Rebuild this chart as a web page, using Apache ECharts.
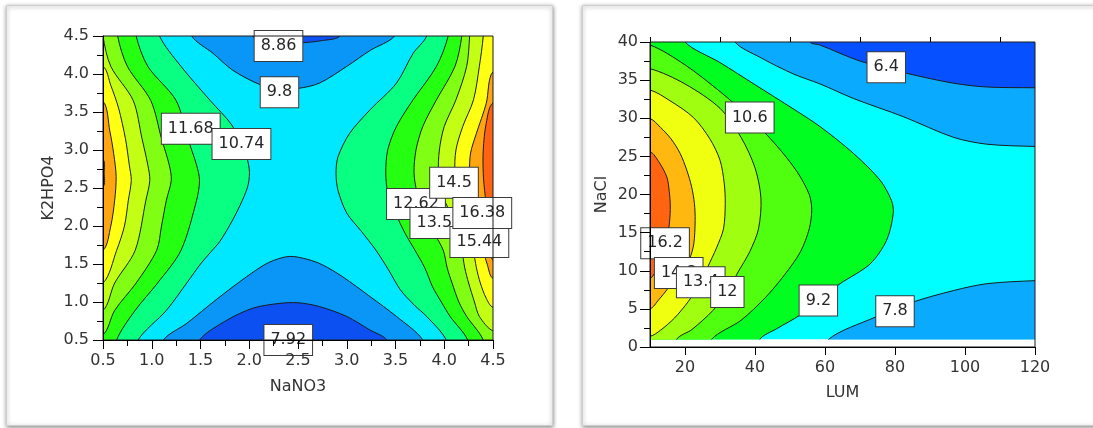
<!DOCTYPE html>
<html>
<head>
<meta charset="utf-8">
<script src="https://cdn.jsdelivr.net/npm/echarts@6.0.0/dist/echarts.min.js"></script>
<style>
html,body{margin:0;padding:0;background:#ffffff;}
#chart{width:1093px;height:428px;}
</style>
</head>
<body>
<div id="chart"></div>
<script>
// ================= LEFT PANEL: NaNO3 (x) vs K2HPO4 (y) =================
// contour lines, [NaNO3, K2HPO4] points
const left_980_bottom = [[1.12,0.5],[1.36,0.72],[1.66,1.03],[1.97,1.33],[2.2,1.52],[2.41,1.60],[2.6,1.56],[2.75,1.49],[2.96,1.33],[3.24,1.07],[3.51,0.81],[3.78,0.5]];
const left_886_bottom = [[1.49,0.5],[1.77,0.76],[2.04,0.92],[2.3,0.98],[2.5,0.99],[2.72,0.94],[3.0,0.81],[3.24,0.63],[3.41,0.5]];
const left_980_top = [[1.41,4.5],[1.63,4.27],[1.83,4.05],[2.11,3.86],[2.3,3.80],[2.5,3.81],[2.72,3.88],[3.0,4.10],[3.24,4.31],[3.49,4.5]];
const left_886_top = [[2.03,4.5],[2.25,4.44],[2.5,4.41],[2.75,4.44],[2.93,4.5]];
const left_1074_L = [[1.08,4.5],[1.3,4.1],[1.6,3.65],[1.82,3.33],[1.95,3.0],[2.0,2.75],[1.99,2.55],[1.93,2.34],[1.83,2.08],[1.70,1.80],[1.60,1.65],[1.50,1.50],[1.37,1.27],[1.15,0.89],[0.86,0.5]];
const left_1168_L = [[0.84,4.5],[0.96,4.1],[1.25,3.65],[1.37,3.15],[1.46,2.8],[1.49,2.6],[1.46,2.34],[1.30,1.68],[1.06,1.25],[0.83,0.89],[0.64,0.5]];
const left_1262_L = [[0.65,4.5],[0.75,4.1],[0.99,3.65],[1.10,3.15],[1.18,2.8],[1.20,2.6],[1.15,2.34],[1.10,2.0],[1.05,1.68],[0.84,1.25],[0.62,0.89],[0.5,0.57]];
const left_1356_L = [[0.5,4.5],[0.58,4.1],[0.81,3.65],[0.90,3.15],[0.96,2.8],[0.98,2.6],[0.94,2.34],[0.83,1.68],[0.62,1.25],[0.5,0.89]];
const left_1450_L = [[0.5,4.1],[0.58,3.85],[0.66,3.55],[0.73,3.15],[0.77,2.8],[0.79,2.6],[0.76,2.34],[0.72,2.0],[0.64,1.68],[0.5,1.25]];
const left_1544_L = [[0.5,3.64],[0.57,3.25],[0.61,2.95],[0.635,2.65],[0.62,2.34],[0.58,2.0],[0.5,1.68]];
const left_1638_L = [[0.5,2.87],[0.512,2.7],[0.5,2.52]];
const left_1074_R = [[3.82,4.5],[3.68,4.27],[3.51,3.88],[3.24,3.53],[3.03,3.22],[2.91,2.91],[2.89,2.69],[2.91,2.47],[3.0,2.17],[3.15,1.93],[3.30,1.68],[3.43,1.42],[3.55,1.16],[3.70,0.95],[3.82,0.81],[4.02,0.5]];
const left_1168_R = [[4.04,4.5],[3.92,4.1],[3.68,3.66],[3.51,3.31],[3.42,3.0],[3.40,2.7],[3.42,2.45],[3.50,2.17],[3.60,1.9],[3.70,1.68],[3.80,1.45],[3.88,1.2],[3.97,1.0],[4.06,0.81],[4.24,0.5]];
const left_1262_R = [[4.18,4.5],[4.11,4.1],[3.92,3.66],[3.78,3.31],[3.71,3.0],[3.69,2.7],[3.72,2.45],[3.80,2.17],[3.90,1.9],[3.99,1.68],[4.03,1.45],[4.08,1.25],[4.15,1.0],[4.23,0.81],[4.40,0.5]];
const left_1356_R = [[4.26,4.5],[4.23,4.1],[4.12,3.66],[4.0,3.31],[3.95,3.0],[3.94,2.7],[3.97,2.45],[4.06,2.17],[4.13,1.9],[4.18,1.68],[4.21,1.45],[4.25,1.25],[4.31,1.0],[4.36,0.81],[4.5,0.62]];
const left_1450_R = [[4.40,4.5],[4.36,4.1],[4.30,3.66],[4.19,3.31],[4.12,3.0],[4.11,2.7],[4.15,2.45],[4.23,2.17],[4.28,1.9],[4.30,1.68],[4.33,1.45],[4.37,1.25],[4.43,1.05],[4.5,0.93]];
const left_1544_R = [[4.5,4.03],[4.43,3.61],[4.33,3.22],[4.27,2.96],[4.26,2.7],[4.28,2.45],[4.33,2.17],[4.37,1.9],[4.40,1.68],[4.44,1.5],[4.5,1.31]];
const left_1638_R = [[4.5,3.62],[4.43,3.35],[4.40,3.0],[4.40,2.69],[4.42,2.4],[4.45,2.17],[4.47,1.9],[4.48,1.7],[4.5,1.55]];
// contour value labels
const leftLabelText = ['8.86','9.8','11.68','10.74','7.92','12.62','14.5','13.56','15.44','16.38'];
const leftLabelX    = [2.30, 2.31, 1.40, 1.92, 2.40, 3.71, 4.10, 3.95, 4.36, 4.39];
const leftLabelY    = [4.37, 3.76, 3.28, 3.08, 0.50, 2.29, 2.57, 2.04, 1.79, 2.17];

// ================= RIGHT PANEL: LUM (x) vs NaCl (y) =================
const right_640_top = [[55.7,40],[58.6,39.6],[70,37.5],[83.3,35.9],[96.7,34.6],[106.2,34.1],[120,34.0]];
const right_780_top = [[34.3,40],[41.4,38.0],[51,35.8],[58.6,34.5],[68.1,32.6],[82.4,30.2],[96.7,27.5],[106.2,26.6],[120,26.3]];
const right_780_bottom = [[61,1],[74.3,3.9],[85.2,5.9],[96.7,7.4],[106.2,8.3],[120,8.7]];
const right_920 = [[20,40],[30,37.3],[40,34.4],[50,31.5],[58.6,28.9],[68.1,25.4],[75.7,21.9],[79,19.2],[79.5,17.5],[77.6,14],[72.9,10.9],[64.3,8.3],[58,6.1],[52.9,4.2],[46.2,2.4],[41.4,1]];
const right_1060 = [[10,39.6],[20,37],[30,33.5],[38.5,30.1],[46,26.5],[52,23],[55.5,20],[56.2,18],[55.5,15.5],[53,12.5],[48.5,9.5],[43,6.5],[36,3.5],[27.6,1]];
const right_1200 = [[10,36.5],[20,34.5],[30,31.3],[36,27.5],[40,23.5],[41.7,19.5],[41,15.5],[38.5,12.5],[35,9.7],[32.1,7.2],[28,4.8],[22,2.3],[17.6,1]];
const right_1340 = [[10,33.7],[15.7,32.3],[22.4,30.1],[27.1,27.3],[30,24.5],[31.2,21.5],[31.5,18.8],[31.0,15.5],[29.0,13],[26.5,10.5],[24.5,8.5],[21,6.0],[17,3.8],[13,2.2],[10,1.4]];
const right_1480 = [[10,29.95],[13,28.8],[16,27.3],[18.6,25.4],[20.5,23.2],[21.9,21],[22.7,18.8],[22.9,16.6],[22.5,13.5],[21.2,11.5],[18.2,9.7],[15,7.6],[12.5,6.2],[10,5.0]];
const right_1620 = [[10,25.6],[12.5,24.3],[14.8,22.3],[15.5,20.4],[15.8,18.5],[15.6,16.5],[15.0,14.5],[14.0,12.5],[12.2,10.5],[10,9.0]];
const rightLabelText = ['6.4','10.6','16.2','14.8','13.4','12','9.2','7.8'];
const rightLabelX    = [77.5, 38.5, 14.3, 18.2, 24.5, 32.1, 58.1, 80.0];
const rightLabelY    = [36.7, 30.1, 13.6,  9.7,  8.5,  7.2,  6.1,  4.7];
const rightXLabelValues = [20, 40, 60, 80, 100, 120];
const rightXMinorTicks  = [10, 30, 50, 70, 90, 110];

// ================= styles =================
const FONT = 'DejaVu Sans';
const LP = {dark:'#0c50f2', blue:'#0a96f6', cyan:'#00e8ff', spring:'#08ff82', green:'#25ff12', yg:'#80ff14', lyg:'#c3ff14', yellow:'#ffff14', orange:'#ffa512', red:'#ff6210'};
const RP = {dark:'#0750ff', blue:'#0aaaff', cyan:'#00ffff', green:'#00ff20', green2:'#50ff10', yg:'#a0ff10', yellow:'#f0ff10', orange:'#ffb810', red:'#ff6410'};

const leftExt = {x0:0.5, x1:4.5, y0:0.5, y1:4.5};
const rightExt = {x0:10, x1:120, y0:1, y1:40};

const leftRegions = [
  {line:left_980_bottom, side:'bottom', color:LP.blue},
  {line:left_886_bottom, side:'bottom', color:LP.dark},
  {line:left_980_top, side:'top', color:LP.blue},
  {line:left_886_top, side:'top', color:LP.dark},
  {line:left_1074_L, side:'left', color:LP.spring},
  {line:left_1168_L, side:'left', color:LP.green},
  {line:left_1262_L, side:'left', color:LP.yg},
  {line:left_1356_L, side:'left', color:LP.lyg},
  {line:left_1450_L, side:'left', color:LP.yellow},
  {line:left_1544_L, side:'left', color:LP.orange},
  {line:left_1638_L, side:'left', color:LP.red},
  {line:left_1074_R, side:'right', color:LP.spring},
  {line:left_1168_R, side:'right', color:LP.green},
  {line:left_1262_R, side:'right', color:LP.yg},
  {line:left_1356_R, side:'right', color:LP.lyg},
  {line:left_1450_R, side:'right', color:LP.yellow},
  {line:left_1544_R, side:'right', color:LP.orange},
  {line:left_1638_R, side:'right', color:LP.red}
];
const rightRegions = [
  {line:right_780_top, side:'topright', color:RP.blue},
  {line:right_640_top, side:'topright', color:RP.dark},
  {line:right_780_bottom, side:'bottomright', color:RP.blue},
  {line:right_920, side:'left', color:RP.green},
  {line:right_1060, side:'left', color:RP.green2},
  {line:right_1200, side:'left', color:RP.yg},
  {line:right_1340, side:'left', color:RP.yellow},
  {line:right_1480, side:'left', color:RP.orange},
  {line:right_1620, side:'left', color:RP.red}
];

function closeRegion(line, side, ext) {
  const dx = (ext.x1 - ext.x0) * 0.06, dy = (ext.y1 - ext.y0) * 0.06;
  const tol = 1e-6;
  const edge = p => {
    if (Math.abs(p[1] - ext.y1) < tol) return 'top';
    if (Math.abs(p[1] - ext.y0) < tol) return 'bottom';
    if (Math.abs(p[0] - ext.x0) < tol) return 'left';
    return 'right';
  };
  const out = p => {
    const e = edge(p);
    if (e === 'top') return [p[0], ext.y1 + dy];
    if (e === 'bottom') return [p[0], ext.y0 - dy];
    if (e === 'left') return [ext.x0 - dx, p[1]];
    return [ext.x1 + dx, p[1]];
  };
  const first = line[0], last = line[line.length - 1];
  const pts = line.slice();
  pts.push(out(last));
  const BL = [ext.x0 - dx, ext.y0 - dy], TL = [ext.x0 - dx, ext.y1 + dy];
  const BR = [ext.x1 + dx, ext.y0 - dy], TR = [ext.x1 + dx, ext.y1 + dy];
  if (side === 'left') { if (edge(last) === 'bottom') pts.push(BL); if (edge(first) === 'top') pts.push(TL); }
  if (side === 'right') { if (edge(last) === 'bottom') pts.push(BR); if (edge(first) === 'top') pts.push(TR); }
  if (side === 'topright') pts.push(TR);
  if (side === 'bottomright') pts.push(BR);
  pts.push(out(first));
  return pts;
}

function contourSeries(regions, ext, bg, axisIndex) {
  return {
    type: 'custom', xAxisIndex: axisIndex.x, yAxisIndex: axisIndex.y,
    silent: true, animation: false, z: 2,
    data: [[ext.x0, ext.y0]],
    renderItem: function (params, api) {
      const tl = api.coord([ext.x0, ext.y1]);
      const br = api.coord([ext.x1, ext.y0]);
      const rect = {x: tl[0], y: tl[1], width: br[0] - tl[0], height: br[1] - tl[1]};
      const children = [{type: 'rect', shape: rect, style: {fill: bg}}];
      regions.forEach(function (r) {
        const pts = closeRegion(r.line, r.side, ext).map(function (p) { return api.coord(p); });
        children.push({type: 'polygon', shape: {points: pts, smooth: 0.3},
          style: {fill: r.color, stroke: '#1c1c1c', lineWidth: 1}});
      });
      return {type: 'group', children: children, clipPath: {type: 'rect', shape: rect}};
    }
  };
}

function labelSeries(texts, xs, ys, axisIndex) {
  return {
    type: 'scatter', xAxisIndex: axisIndex.x, yAxisIndex: axisIndex.y,
    symbolSize: 0, silent: true, animation: false, clip: false, z: 6,
    itemStyle: {opacity: 1},
    data: texts.map(function (t, i) { return {name: t, value: [xs[i], ys[i]]}; }),
    label: {show: true, position: 'inside', formatter: '{b}', color: '#262626',
      fontFamily: FONT, fontSize: 16, lineHeight: 16, backgroundColor: '#ffffff',
      borderColor: '#3a3a3a', borderWidth: 1, padding: [7, 6, 7, 6], opacity: 1},
    labelLayout: {hideOverlap: false}
  };
}

const axisText = {color: '#333', fontFamily: FONT, fontSize: 16};
const blackLine = {lineStyle: {color: '#000', width: 1}};

const chart = echarts.init(document.getElementById('chart'), null, {renderer: 'canvas'});
chart.setOption({
  animation: false,
  backgroundColor: '#ffffff',
  graphic: [
    {type: 'rect', z: -100, shape: {x: 6.5, y: 5.5, width: 546, height: 420},
      style: {fill: '#fff', stroke: '#cfcfcf', lineWidth: 1, shadowBlur: 4, shadowOffsetX: 0, shadowOffsetY: 1, shadowColor: 'rgba(0,0,0,0.45)'}},
    {type: 'rect', z: -100, shape: {x: 582.5, y: 5.5, width: 530, height: 420},
      style: {fill: '#fff', stroke: '#cfcfcf', lineWidth: 1, shadowBlur: 4, shadowOffsetX: 0, shadowOffsetY: 1, shadowColor: 'rgba(0,0,0,0.45)'}}
  ],
  grid: [
    {left: 103, top: 36, width: 390, height: 304, show: true, z: 10, borderColor: '#1a1a1a', borderWidth: 1, backgroundColor: 'transparent'},
    {left: 650, top: 42, width: 385, height: 305, show: true, z: 10, borderColor: '#1a1a1a', borderWidth: 1, backgroundColor: 'transparent'}
  ],
  xAxis: [
    {gridIndex: 0, type: 'value', min: 0.5, max: 4.5, interval: 0.5, z: 10,
      name: 'NaNO3', nameLocation: 'middle', nameGap: 39, nameTextStyle: axisText,
      axisLine: blackLine, axisTick: {length: 9, lineStyle: {color: '#000'}},
      minorTick: {show: true, splitNumber: 2, length: 6, lineStyle: {color: '#000'}},
      axisLabel: Object.assign({margin: 13, formatter: function (v) { return v.toFixed(1); }}, axisText),
      splitLine: {show: false}, minorSplitLine: {show: false}},
    {gridIndex: 1, type: 'value', min: 10, max: 120, z: 10,
      name: 'LUM', nameLocation: 'middle', nameGap: 38, nameTextStyle: axisText,
      axisLine: blackLine, axisTick: {length: 8, customValues: rightXLabelValues, lineStyle: {color: '#000'}},
      axisLabel: Object.assign({margin: 13, customValues: rightXLabelValues}, axisText),
      splitLine: {show: false}},
    {gridIndex: 1, type: 'value', min: 10, max: 120, z: 10,
      axisLine: {show: false}, axisTick: {length: 5, customValues: rightXMinorTicks, lineStyle: {color: '#000'}},
      axisLabel: {show: false}, splitLine: {show: false}}
  ],
  yAxis: [
    {gridIndex: 0, type: 'value', min: 0.5, max: 4.5, interval: 0.5, z: 10,
      name: 'K2HPO4', nameLocation: 'middle', nameGap: 46, nameTextStyle: axisText,
      axisLine: blackLine, axisTick: {length: 10, lineStyle: {color: '#000'}},
      minorTick: {show: true, splitNumber: 2, length: 6, lineStyle: {color: '#000'}},
      axisLabel: Object.assign({margin: 14, formatter: function (v) { return v.toFixed(1); }}, axisText),
      splitLine: {show: false}, minorSplitLine: {show: false}},
    {gridIndex: 1, type: 'value', min: 0, max: 40, interval: 5, z: 10,
      name: 'NaCl', nameLocation: 'middle', nameGap: 40, nameTextStyle: axisText,
      axisLine: blackLine, axisTick: {length: 10, lineStyle: {color: '#000'}},
      minorTick: {show: true, splitNumber: 2, length: 6, lineStyle: {color: '#000'}},
      axisLabel: Object.assign({margin: 12}, axisText),
      splitLine: {show: false}, minorSplitLine: {show: false}}
  ],
  series: [
    contourSeries(leftRegions, leftExt, LP.cyan, {x: 0, y: 0}),
    contourSeries(rightRegions, rightExt, RP.cyan, {x: 1, y: 1}),
    labelSeries(leftLabelText, leftLabelX, leftLabelY, {x: 0, y: 0}),
    labelSeries(rightLabelText, rightLabelX, rightLabelY, {x: 1, y: 1})
  ]
});
</script>
</body>
</html>
